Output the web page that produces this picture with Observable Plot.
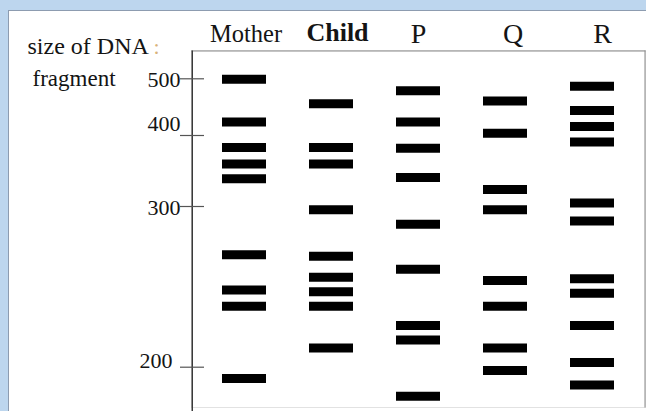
<!DOCTYPE html>
<html>
<head>
<meta charset="utf-8">
<script src="https://cdn.jsdelivr.net/npm/d3@7"></script>
<script src="https://cdn.jsdelivr.net/npm/@observablehq/plot@0.6"></script>
<style>
  html, body { margin: 0; padding: 0; }
  body { width: 646px; height: 411px; background: #bdd6ee; position: relative; overflow: hidden; }
  #panel { position: absolute; left: 8px; top: 10px; right: -4px; bottom: -4px; background: #fff;
           border-left: 1px solid #8d9cb0; border-top: 1px solid #8d9cb0; }
  #chart { position: absolute; left: 0; top: 0; }
  #chart svg text { font-family: 'Liberation Serif', 'Times New Roman', serif; }
</style>
</head>
<body>
<div id="panel"></div>
<div id="chart"></div>
<script>
// ---- data (DNA fragment sizes) ----
const lanes = ["Mother", "Child", "P", "Q", "R"];
const motherSizes = [499, 424, 383, 360, 339, 270, 248, 238, 193];
const childSizes  = [456, 383, 360, 298, 269, 256, 247, 238, 212];
const pSizes      = [479, 424, 382, 341, 289, 261, 226, 217, 182];
const qSizes      = [461, 404, 324, 298, 254, 238, 212, 198];
const rSizes      = [487, 444, 416, 391, 305, 291, 255, 246, 226, 203, 189];
const axisTicks   = [500, 400, 300, 200];
const tickLabels  = ["500", "400", "300", "200"];
const axisTitleLines = ["size of DNA", "fragment"];

const laneSizes = [motherSizes, childSizes, pSizes, qSizes, rSizes];
const bands = lanes.flatMap((lane, i) => laneSizes[i].map(size => ({lane, size})));
const ticks = axisTicks.map((v, i) => ({v, label: tickLabels[i]}));

const serif = "'Liberation Serif', 'Times New Roman', serif";
// per-lane label styling
const laneLabelStyle = {
  Mother: {fontSize: 24.5, fontWeight: "normal", dx: 1.5, dy: -9},
  Child:  {fontSize: 26,   fontWeight: "bold",   dx: 6,   dy: -10},
  P:      {fontSize: 28,   fontWeight: "normal", dx: 0,   dy: -8},
  Q:      {fontSize: 28,   fontWeight: "normal", dx: 7.5, dy: -8},
  R:      {fontSize: 28,   fontWeight: "normal", dx: 10,  dy: -8}
};

const ink = "#141414";

const chart = Plot.plot({
  width: 646,
  height: 411,
  marginLeft: 191,
  marginRight: 1,
  marginTop: 50,
  marginBottom: 4,
  style: {background: "transparent", fontFamily: serif, overflow: "visible"},
  x: {type: "band", domain: lanes, range: [176.65, 659.55], padding: 0.5, axis: null},
  y: {type: "linear", domain: [200, 300, 400, 500], range: [366.7, 206, 135, 78.3], axis: null},
  marks: [
    // faint gel box
    Plot.frame({stroke: "#e2e2e2"}),
    // top edge and right edge of the gel box
    Plot.frame({fill: "#8a8a8a", insetBottom: 356}),
    Plot.frame({fill: "#8a8a8a", insetLeft: 453}),
    // axis line (left)
    Plot.frame({fill: "#3a3a3a", insetRight: 452.5, insetBottom: -6}),
    // ticks crossing the axis
    Plot.ruleY(ticks, {y: "v", insetLeft: -11, insetRight: 441, stroke: "#555", strokeWidth: 1.2}),
    // tick labels
    Plot.text(ticks.filter(d => d.v === 500 || d.v === 300), {
      y: "v", text: "label", frameAnchor: "left", dx: -11, dy: 1, textAnchor: "end",
      lineAnchor: "middle", fontSize: 22, fontFamily: serif, fill: ink
    }),
    Plot.text(ticks.filter(d => d.v === 400), {
      y: "v", text: "label", frameAnchor: "left", dx: -11, dy: -12, textAnchor: "end",
      lineAnchor: "middle", fontSize: 22, fontFamily: serif, fill: ink
    }),
    Plot.text(ticks.filter(d => d.v === 200), {
      y: "v", text: "label", frameAnchor: "left", dx: -19, dy: -6, textAnchor: "end",
      lineAnchor: "middle", fontSize: 22, fontFamily: serif, fill: ink
    }),
    // axis title
    Plot.text([axisTitleLines[0]], {
      text: d => d, frameAnchor: "top-left", dx: -164, dy: 3, textAnchor: "start",
      lineAnchor: "bottom", fontSize: 24, fontFamily: serif, fill: ink
    }),
    Plot.text([":"], {
      text: d => d, frameAnchor: "top-left", dx: -38, dy: 3, textAnchor: "start",
      lineAnchor: "bottom", fontSize: 22, fontFamily: serif, fill: "#d9b27a"
    }),
    Plot.text([axisTitleLines[1]], {
      text: d => d, frameAnchor: "top-left", dx: -159, dy: 35, textAnchor: "start",
      lineAnchor: "bottom", fontSize: 23, fontFamily: serif, fill: ink
    }),
    // lane labels
    ...lanes.map(lane => Plot.text([lane], {
      x: d => d, text: d => d, frameAnchor: "top", lineAnchor: "bottom",
      fontFamily: serif, fill: ink, ...laneLabelStyle[lane]
    })),
    // DNA bands
    Plot.tickY(bands, {x: "lane", y: "size", stroke: "#000", strokeWidth: 9})
  ]
});
document.getElementById("chart").appendChild(chart);
</script>
</body>
</html>
